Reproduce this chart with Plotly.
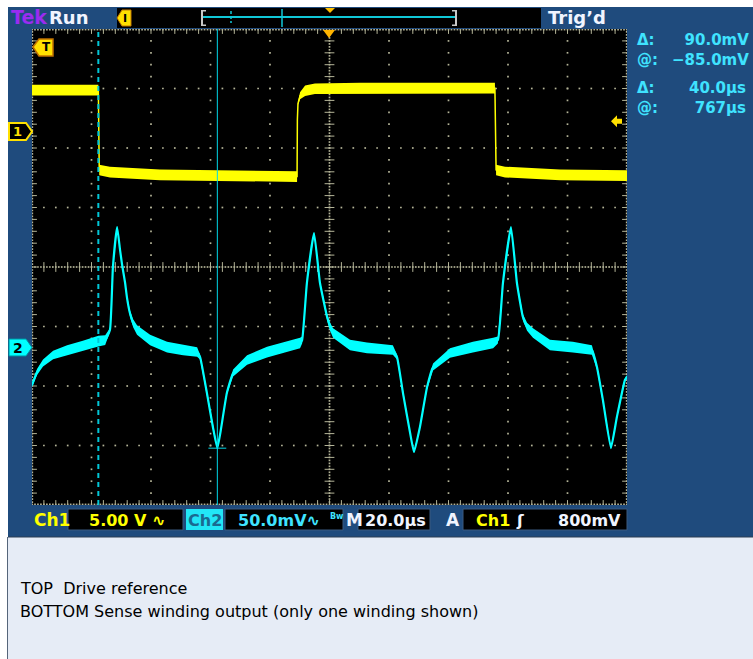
import plotly.graph_objects as go

# ---------------- acquisition settings ----------------
TIME_US_PER_DIV = 20.0
CH1_VOLTS_PER_DIV = 5.0
CH2_MV_PER_DIV = 50.0
CH1_POSITION_DIV = 2.29      # Ch1 ground marker, divisions above centre
CH2_POSITION_DIV = -1.345    # Ch2 ground marker, divisions above centre
TRIGGER_LEVEL_V = 0.8

# cursor pair (time cursors on Ch2)
CURSOR_T1_US = 22.3
CURSOR_T2_US = 62.3
CURSOR_T2_MV = -85.0

# ---------------- Ch1: drive reference (V) ----------------
ch1_time_us = [0.0, 22.3, 22.6, 26.2, 43.0, 66.6, 89.1, 89.2, 89.4, 90.1, 91.8,
               95.1, 110.3, 133.8, 155.6, 156.0, 159.0, 177.5, 200.0]
ch1_volts = [3.42, 3.42, -3.30, -3.47, -3.70, -3.78, -3.85, 0.92, 2.27, 2.94, 3.36,
             3.53, 3.58, 3.58, 3.58, -3.30, -3.47, -3.70, -3.78]
ch1_noise_v = [0.45, 0.45, 0.45, 0.45, 0.45, 0.45, 0.45, 0.05, 0.10, 0.30, 0.45,
               0.45, 0.45, 0.45, 0.45, 0.45, 0.45, 0.45, 0.45]

# ---------------- Ch2: sense winding output (mV) ----------------
ch2_time_us = [0.0, 1.7, 3.7, 7.1, 11.8, 17.1, 22.3, 24.6, 26.2, 27.2, 28.6,
               29.6, 30.3, 31.3, 31.9, 32.9, 34.0, 35.3, 39.7, 45.4, 50.8, 55.5,
               56.5, 58.8, 60.8, 62.3, 63.3, 65.5, 67.6, 72.3, 79.0, 84.4,
               90.1, 90.8, 92.4, 94.8, 96.8, 99.2, 100.2, 101.2, 106.9, 112.6, 121.3,
               122.7, 124.7, 127.1, 128.4, 130.4, 132.8, 134.8, 140.5, 148.2,
               155.0, 156.6, 158.3, 161.0, 163.0, 165.0, 166.4, 168.4, 174.1, 181.8,
               188.2, 189.9, 191.9, 194.6, 196.6, 199.3, 200.0]
ch2_mv = [-32.0, -21.0, -13.4, -6.7, -2.5, 1.0, 5.0, 5.8, 14.3, 67.2, 100.8,
          81.5, 68.9, 53.8, 42.0, 28.6, 20.0, 14.3, 5.9, 0.0, -2.5, -4.2,
          -8.4, -38.7, -67.2, -85.0, -72.3, -38.7, -21.8, -10.9, -4.2, -0.8,
          3.4, 5.9, 53.8, 95.8, 53.8, 25.2, 17.0, 11.8, 1.7, -0.8, -2.5,
          -8.4, -38.7, -72.3, -88.2, -67.2, -33.6, -16.8, -5.0, 0.0,
          3.4, 5.9, 53.8, 100.8, 53.8, 25.2, 17.0, 11.8, 1.7, 0.0,
          -2.5, -16.8, -44.5, -84.9, -58.8, -27.7, -25.0]
ch2_noise_mv = [1.5, 2.5, 3.0, 3.5, 4.0, 4.2, 4.5, 4.0, 1.5, 1.0, 1.0,
                1.0, 1.2, 1.5, 2.0, 2.6, 3.3, 4.0, 4.5, 4.5, 4.5, 4.0,
                2.0, 1.0, 1.0, 0.8, 1.0, 1.5, 3.0, 4.0, 4.5, 4.5,
                4.5, 3.0, 1.0, 1.0, 1.5, 2.6, 3.3, 4.0, 4.5, 4.5, 4.0,
                2.0, 1.0, 1.0, 0.8, 1.0, 2.0, 3.0, 4.0, 4.5,
                4.5, 3.0, 1.0, 1.0, 1.5, 2.6, 3.3, 4.0, 4.5, 4.5,
                4.0, 2.0, 1.0, 0.8, 1.0, 1.5, 1.5]

# ---------------- readout texts ----------------
volt_cursor_labels = ["Δ:", "@:"]
volt_cursor_values = ["90.0mV", "−85.0mV"]
time_cursor_labels = ["Δ:", "@:"]
time_cursor_values = ["40.0µs", "767µs"]
status_ch1 = "5.00 V ∿"
status_ch2 = "50.0mV∿"
status_time = "20.0µs"
status_trig = "800mV"
notes = ["TOP  Drive reference", "BOTTOM Sense winding output (only one winding shown)"]

# ---------------- page geometry (pixels) ----------------
W, H = 753, 659
GX0, GY0, GX1, GY1 = 32, 29, 627, 505          # graticule
BLUE = "#1F4B7D"
YEL = "#FFFF00"
CYN = "#00FFFF"
RO_CYN = "#3FE3FF"
GRID = "#B4B498"


def px(x, y):
    """pixel -> paper coordinates"""
    return (x - GX0) / (GX1 - GX0), (GY1 - y) / (GY1 - GY0)


def rect(x0, y0, x1, y1, fill, line=None, lw=0):
    a, b = px(x0, y1)
    c, d = px(x1, y0)
    return dict(type="rect", xref="paper", yref="paper", x0=a, y0=b, x1=c, y1=d,
                fillcolor=fill, line=dict(color=line or fill, width=lw), layer="above")


def poly(points, fill, line=None, lw=0):
    pts = [px(x, y) for x, y in points]
    path = "M " + " L ".join(f"{a:.5f},{b:.5f}" for a, b in pts) + " Z"
    return dict(type="path", xref="paper", yref="paper", path=path,
                fillcolor=fill, line=dict(color=line or fill, width=lw), layer="above")


def pline(x0, y0, x1, y1, color, lw=1, dash=None):
    a, b = px(x0, y0)
    c, d = px(x1, y1)
    ln = dict(color=color, width=lw)
    if dash:
        ln["dash"] = dash
    return dict(type="line", xref="paper", yref="paper", x0=a, y0=b, x1=c, y1=d,
                line=ln, layer="above")


def text(x, y, s, color, size, anchor="left", family="DejaVu Sans", bold=True, align="left"):
    a, b = px(x, y)
    return dict(xref="paper", yref="paper", x=a, y=b, text=f"<b>{s}</b>" if bold else s,
                showarrow=False, xanchor=anchor, yanchor="middle", align=align,
                font=dict(color=color, size=size, family=family))


fig = go.Figure()

# ---------------- graticule (divisions on y, µs on x) ----------------
x_div = TIME_US_PER_DIV
dots_x, dots_y = [], []
for i in range(1, 10):
    if i == 5:
        continue
    for k in range(1, 40):
        dots_x.append(i * x_div)
        dots_y.append(-4 + k * 0.2)
for j in range(-3, 4):
    if j == 0:
        continue
    for k in range(1, 50):
        dots_x.append(k * x_div / 5)
        dots_y.append(j)
# centre cross: fine dots
for k in range(1, 200):
    dots_x.append(k * x_div / 20)
    dots_y.append(0)
for k in range(1, 160):
    dots_x.append(5 * x_div)
    dots_y.append(-4 + k * 0.05)
# border dotted outline
for k in range(0, 201):
    dots_x += [k * x_div / 20, k * x_div / 20]
    dots_y += [-3.99, 3.99]
for k in range(0, 161):
    dots_x += [0.1, 199.9]
    dots_y += [-4 + k * 0.05, -4 + k * 0.05]
fig.add_trace(go.Scatter(x=dots_x, y=dots_y, mode="markers", yaxis="y",
                         marker=dict(symbol="square", size=1.7, color=GRID, line=dict(width=0)),
                         hoverinfo="skip", showlegend=False))

# tick marks on centre lines and border
tx, ty = [], []
for k in range(1, 50):
    tx += [k * x_div / 5, k * x_div / 5, k * x_div / 5]
    ty += [0, -4, 4]
fig.add_trace(go.Scatter(x=tx, y=ty, mode="markers", yaxis="y",
                         marker=dict(symbol="line-ns", size=7, line=dict(color=GRID, width=1)),
                         hoverinfo="skip", showlegend=False))
vx, vy = [], []
for k in range(1, 40):
    vx += [100, 0, 200]
    vy += [-4 + k * 0.2] * 3
fig.add_trace(go.Scatter(x=vx, y=vy, mode="markers", yaxis="y",
                         marker=dict(symbol="line-ew", size=7, line=dict(color=GRID, width=1)),
                         hoverinfo="skip", showlegend=False))


def band(ts, vals, noise):
    upper = [v + n for v, n in zip(vals, noise)]
    lower = [v - n for v, n in zip(vals, noise)]
    return list(ts) + list(ts[::-1]), upper + lower[::-1]


# ---------------- Ch1 trace ----------------
bx, by = band(ch1_time_us, ch1_volts, ch1_noise_v)
fig.add_trace(go.Scatter(x=bx, y=by, yaxis="y2", mode="lines", fill="toself",
                         fillcolor=YEL, line=dict(width=0, color=YEL),
                         hoverinfo="skip", showlegend=False))
fig.add_trace(go.Scatter(x=ch1_time_us, y=ch1_volts, yaxis="y2", mode="lines",
                         line=dict(color=YEL, width=1.5), hoverinfo="skip", showlegend=False))

# ---------------- Ch2 trace ----------------
bx, by = band(ch2_time_us, ch2_mv, ch2_noise_mv)
fig.add_trace(go.Scatter(x=bx, y=by, yaxis="y3", mode="lines", fill="toself",
                         fillcolor=CYN, line=dict(width=0, color=CYN),
                         hoverinfo="skip", showlegend=False))
fig.add_trace(go.Scatter(x=ch2_time_us, y=ch2_mv, yaxis="y3", mode="lines",
                         line=dict(color=CYN, width=2.2, shape="spline", smoothing=0.4),
                         hoverinfo="skip", showlegend=False))

# ---------------- axes ----------------
ch1_range = [(-4 - CH1_POSITION_DIV) * CH1_VOLTS_PER_DIV, (4 - CH1_POSITION_DIV) * CH1_VOLTS_PER_DIV]
ch2_range = [(-4 - CH2_POSITION_DIV) * CH2_MV_PER_DIV, (4 - CH2_POSITION_DIV) * CH2_MV_PER_DIV]
hidden = dict(visible=False, showgrid=False, zeroline=False, fixedrange=True)
fig.update_layout(
    width=W, height=H,
    margin=dict(l=GX0, r=W - GX1, t=GY0, b=H - GY1, pad=0),
    paper_bgcolor="white", plot_bgcolor="black",
    xaxis=dict(range=[0, 10 * TIME_US_PER_DIV], **hidden),
    yaxis=dict(range=[-4, 4], **hidden),
    yaxis2=dict(range=ch1_range, overlaying="y", **hidden),
    yaxis3=dict(range=ch2_range, overlaying="y", **hidden),
    showlegend=False,
)

shapes = []
# cursors
shapes.append(dict(type="line", xref="x", yref="paper", x0=CURSOR_T1_US, x1=CURSOR_T1_US, y0=0, y1=1,
                   line=dict(color="#00C8D8", width=2, dash="5px,4px")))
shapes.append(dict(type="line", xref="x", yref="paper", x0=CURSOR_T2_US, x1=CURSOR_T2_US, y0=0, y1=1,
                   line=dict(color="#00D8E8", width=1)))
shapes.append(dict(type="line", xref="x", yref="y3", x0=CURSOR_T2_US - 3, x1=CURSOR_T2_US + 3,
                   y0=CURSOR_T2_MV, y1=CURSOR_T2_MV, line=dict(color="#00D8E8", width=1)))

# trigger level marker (right edge of graticule, on Ch1 scale)
trig_div = TRIGGER_LEVEL_V / CH1_VOLTS_PER_DIV + CH1_POSITION_DIV
trig_y = GY0 + (4 - trig_div) * (GY1 - GY0) / 8

# blue frame around the graticule
shapes.append(rect(8, 7, W + 2, GY0, BLUE))
shapes.append(rect(8, 7, GX0, 537, BLUE))
shapes.append(rect(GX1, 7, W + 2, 537, BLUE))
shapes.append(rect(8, GY1, W + 2, 537, BLUE))
# notes panel
shapes.append(rect(8, 537, W + 2, H + 2, "#E6ECF6"))
shapes.append(pline(7.5, 537, 7.5, H, "#55657A", 1))
shapes.append(pline(8, 537, W, 537, "#2C3E55", 1))

# header record view
shapes.append(rect(117, 8, 541, 28, "black"))
shapes.append(pline(203, 17, 455, 17, "#10C8D8", 2))
shapes.append(poly([(201, 10), (206, 10), (206, 11.5), (203, 11.5), (203, 24.5), (206, 24.5), (206, 26), (201, 26)], "#C8C8C8"))
shapes.append(poly([(452, 10), (457, 10), (457, 26), (452, 26), (452, 24.5), (455, 24.5), (455, 11.5), (452, 11.5)], "#C8C8C8"))
shapes.append(pline(282, 9, 282, 27, "#10C8D8", 1.5))
shapes.append(pline(231, 11, 231, 23, "#10C8D8", 1.5, dash="3px,2px"))
shapes.append(poly([(325, 8), (335, 8), (330, 13)], "#FFC000"))
shapes.append(poly([(117, 18), (122, 10), (131, 10), (131, 26), (122, 26)], "#FFE000", "#C07800", 1))

# trigger position and level markers
shapes.append(poly([(323, 30), (335, 30), (329, 38)], "#FFB400"))
ty0 = trig_y
shapes.append(poly([(611, ty0), (617, ty0 - 6), (617, ty0 - 2.5), (622, ty0 - 2.5),
                    (622, ty0 + 2.5), (617, ty0 + 2.5), (617, ty0 + 6)], "#FFE000"))

# channel / trigger markers on the left
shapes.append(poly([(33, 47), (39, 39), (53, 39), (53, 56), (39, 56)], "#FFE000", "#C07000", 1.5))
shapes.append(poly([(9, 123), (26, 123), (32, 131.5), (26, 140), (9, 140)], "black", "#FFE000", 2))
shapes.append(poly([(9, 339), (26, 339), (32, 347.5), (26, 356), (9, 356)], CYN, "#0090A0", 1))

# status row boxes
shapes.append(rect(68, 509, 183, 530, "black", "#3A5A80", 1))
shapes.append(rect(186, 509, 223, 530, "#22E6F6"))
shapes.append(rect(225, 509, 343, 530, "black", "#3A5A80", 1))
shapes.append(rect(358, 509, 430, 530, "black", "#3A5A80", 1))
shapes.append(rect(463, 509, 627, 530, "black", "#3A5A80", 1))
fig.update_layout(shapes=shapes)

ann = []
ann.append(text(9, 17, "Tek", "#9A2CF0", 19))
ann.append(text(47, 17, "Run", "#F0F4FF", 18))
ann.append(text(546, 17, "Trig’d", "#F0F4FF", 18))
ann.append(text(46.5, 47.5, "T", "black", 12, anchor="center"))
ann.append(text(125, 18, "I", "black", 11, anchor="center"))
ann.append(text(17.5, 131.5, "1", "#FFE000", 13, anchor="center"))
ann.append(text(17.5, 347.5, "2", "black", 14, anchor="center"))
# cursor readout blocks
ann.append(text(635, 50, "<br>".join(volt_cursor_labels), RO_CYN, 15))
ann.append(text(751, 50, "<br>".join(volt_cursor_values), RO_CYN, 15, anchor="right", align="right"))
ann.append(text(635, 97.5, "<br>".join(time_cursor_labels), RO_CYN, 15))
ann.append(text(748, 97.5, "<br>".join(time_cursor_values), RO_CYN, 15, anchor="right", align="right"))
# status row
ann.append(text(32, 520, "Ch1", YEL, 17))
ann.append(text(87, 520, status_ch1, YEL, 16))
ann.append(text(204.5, 520, "Ch2", "#1A6A90", 16, anchor="center"))
ann.append(text(236, 520, status_ch2, RO_CYN, 16))
ann.append(text(328, 516, "Bw", RO_CYN, 8))
ann.append(text(344, 520, "M", "#F0F4FF", 17))
ann.append(text(363, 520, status_time, "#F0F4FF", 16))
ann.append(text(444, 520, "A", "#F0F4FF", 17))
ann.append(text(474, 520, "Ch1", YEL, 16))
ann.append(text(520, 520, "ʃ", "#F0F4FF", 16, anchor="center"))
ann.append(text(623, 520, status_trig, "#F0F4FF", 16, anchor="right"))
# notes
ann.append(text(18, 588, notes[0], "black", 16, family="DejaVu Sans", bold=False))
ann.append(text(18, 611, notes[1], "black", 16, family="DejaVu Sans", bold=False))
fig.update_layout(annotations=ann)

fig.write_html("out.html", config={"displayModeBar": False, "staticPlot": True})
